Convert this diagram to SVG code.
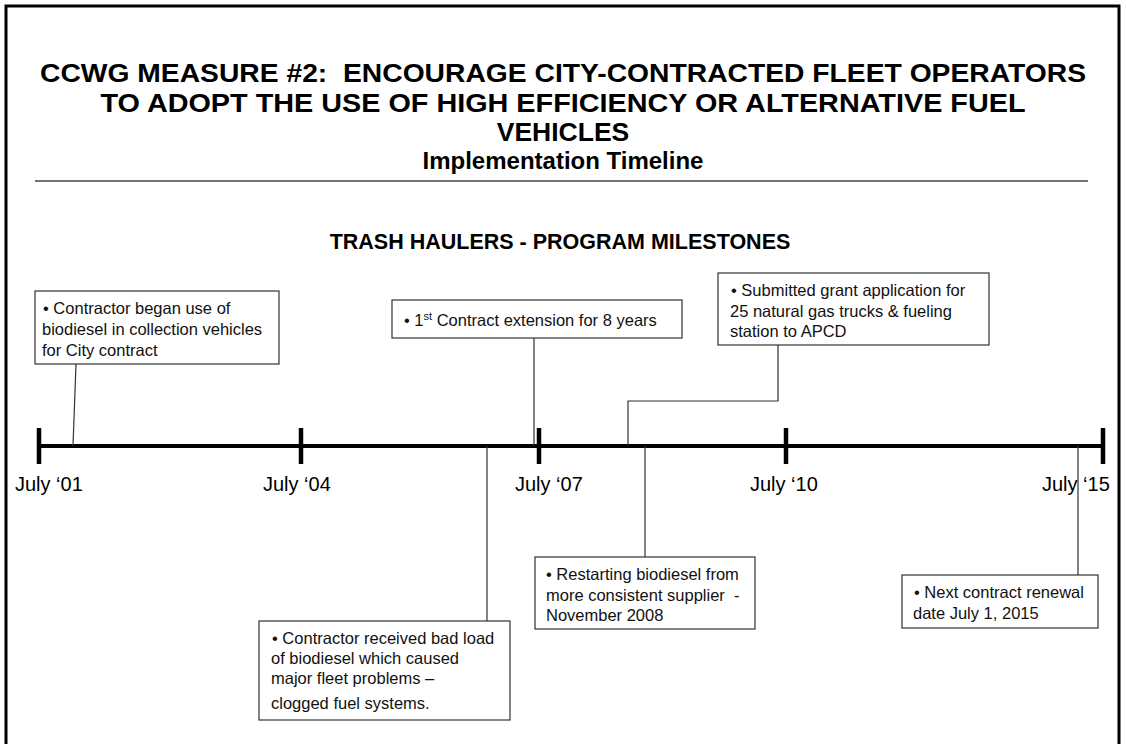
<svg xmlns="http://www.w3.org/2000/svg" width="1126" height="744" viewBox="0 0 1126 744">
  <defs>
    <style>
      .title { font-family: "Liberation Sans", Arial, sans-serif; font-weight: bold; font-size: 26.5px; fill: #000; text-anchor: middle; }
      .subtitle { font-family: "Liberation Sans", Arial, sans-serif; font-weight: bold; font-size: 24px; fill: #000; text-anchor: middle; }
      .sub { font-family: "Liberation Sans", Arial, sans-serif; font-weight: bold; font-size: 21.5px; fill: #000; text-anchor: middle; }
      .note { font-family: "Liberation Sans", Arial, sans-serif; font-size: 16.5px; fill: #111; }
      .date { font-family: "Liberation Sans", Arial, sans-serif; font-size: 20px; fill: #000; }
      .box { fill: #fff; stroke: #333; stroke-width: 1.2; }
      .lead { fill: none; stroke: #333; stroke-width: 1.2; }
      .axis { stroke: #000; stroke-width: 4; fill: none; }
      .tick { stroke: #000; stroke-width: 4.5; }
    </style>
  </defs>

  <rect x="0" y="0" width="1126" height="744" fill="#fff"/>
  <!-- page frame (open at the bottom) -->
  <path d="M6 760 V6 H1119 V760" fill="none" stroke="#000" stroke-width="3"/>

  <!-- heading -->
  <g id="heading">
    <text class="title" x="563" y="82" textLength="1046" lengthAdjust="spacingAndGlyphs">CCWG MEASURE #2:&#160; ENCOURAGE CITY-CONTRACTED FLEET OPERATORS</text>
    <text class="title" x="563" y="111.5" textLength="925" lengthAdjust="spacingAndGlyphs">TO ADOPT THE USE OF HIGH EFFICIENCY OR ALTERNATIVE FUEL</text>
    <text class="title" x="563" y="141">VEHICLES</text>
    <text class="subtitle" x="563" y="168.5">Implementation Timeline</text>
    <line x1="35" y1="181" x2="1088" y2="181" stroke="#444" stroke-width="1.5"/>
    <text class="sub" x="560" y="249">TRASH HAULERS - PROGRAM MILESTONES</text>
  </g>

  <!-- time axis -->
  <g id="axis">
    <line class="axis" x1="39" y1="446" x2="1103" y2="446"/>
    <line class="tick" x1="39" y1="428" x2="39" y2="464"/>
    <line class="tick" x1="301" y1="428" x2="301" y2="464"/>
    <line class="tick" x1="539" y1="428" x2="539" y2="464"/>
    <line class="tick" x1="786" y1="428" x2="786" y2="464"/>
    <line class="tick" x1="1103" y1="428" x2="1103" y2="464"/>
    <text class="date" x="15" y="491">July ‘01</text>
    <text class="date" x="263" y="491">July ‘04</text>
    <text class="date" x="515" y="491">July ‘07</text>
    <text class="date" x="750" y="491">July ‘10</text>
    <text class="date" x="1042" y="491">July ‘15</text>
  </g>

  <!-- leader lines from milestones to the axis -->
  <g id="connectors">
    <line class="lead" x1="76" y1="364" x2="73" y2="446" stroke="#666"/>
    <line class="lead" x1="534" y1="338" x2="534" y2="446"/>
    <polyline class="lead" points="778,345 778,401 628,401 628,446"/>
    <line class="lead" x1="487" y1="446" x2="487" y2="621"/>
    <line class="lead" x1="645" y1="446" x2="645" y2="557"/>
    <line class="lead" x1="1078" y1="446" x2="1078" y2="575"/>
  </g>

  <g id="m2001">
    <rect class="box" x="35" y="291" width="244" height="73"/>
    <text class="note" x="43" y="314">• Contractor began use of</text>
    <text class="note" x="42" y="335">biodiesel in collection vehicles</text>
    <text class="note" x="42" y="356">for City contract</text>
  </g>

  <g id="m2007">
    <rect class="box" x="392" y="300" width="290" height="38"/>
    <text class="note" x="404" y="326">• 1<tspan font-size="11" dy="-6">st</tspan><tspan dy="6"> Contract extension for 8 years</tspan></text>
  </g>

  <g id="m2009">
    <rect class="box" x="718" y="273" width="271" height="72"/>
    <text class="note" x="731" y="296">• Submitted grant application for</text>
    <text class="note" x="730" y="317">25 natural gas trucks &amp; fueling</text>
    <text class="note" x="730" y="337">station to APCD</text>
  </g>

  <g id="m2006">
    <rect class="box" x="259" y="621" width="251" height="99"/>
    <text class="note" x="272" y="644">• Contractor received bad load</text>
    <text class="note" x="271" y="664">of biodiesel which caused</text>
    <text class="note" x="271" y="684">major fleet problems –</text>
    <text class="note" x="271" y="709">clogged fuel systems.</text>
  </g>

  <g id="m2008">
    <rect class="box" x="535" y="557" width="220" height="72"/>
    <text class="note" x="546" y="580">• Restarting biodiesel from</text>
    <text class="note" x="546" y="601">more consistent supplier&#160; -</text>
    <text class="note" x="546" y="621">November 2008</text>
  </g>

  <g id="m2015">
    <rect class="box" x="902" y="575" width="196" height="53"/>
    <text class="note" x="914" y="598">• Next contract renewal</text>
    <text class="note" x="913" y="619">date July 1, 2015</text>
  </g>
</svg>
